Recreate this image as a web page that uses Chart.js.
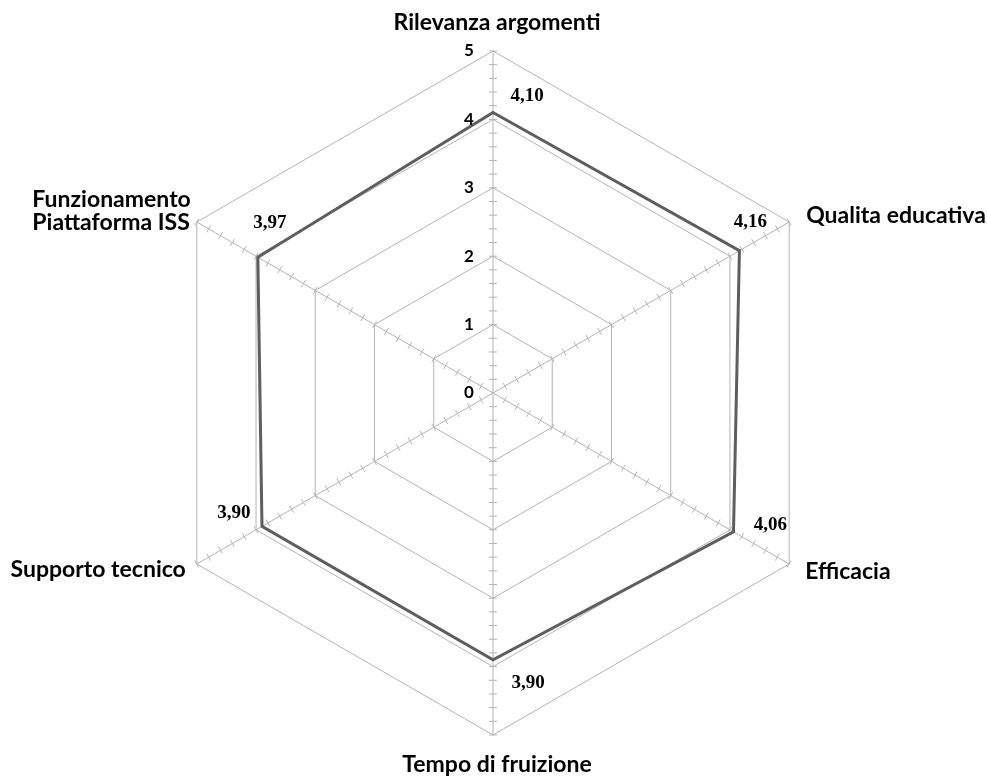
<!DOCTYPE html>
<html>
<head>
<meta charset="utf-8">
<script src="https://cdn.jsdelivr.net/npm/chart.js@4.4.0/dist/chart.umd.min.js"></script>
<style>
  body { margin: 0; background: #fff; }
  #box { width: 987px; height: 776px; }
</style>
</head>
<body>
<div id="box"><canvas id="grafico"></canvas></div>
<script>
const categorie = [
  "Rilevanza argomenti",
  "Qualita educativa",
  "Efficacia",
  "Tempo di fruizione",
  "Supporto tecnico",
  ["Funzionamento", "Piattaforma ISS"]
];
const medie = [4.10, 4.16, 4.06, 3.90, 3.90, 3.97];
const tickLabels = ["0", "1", "2", "3", "4", "5"];

const grigio = "#b4b4b4";

// spostamenti delle etichette (in px) rispetto al vertice esterno / al punto
const offsetCategorie = [
  { dx: 4, dy: -21, align: "center" },
  { dx: 17, dy: 1, align: "left" },
  { dx: 16, dy: 15, align: "left" },
  { dx: 4, dy: 37, align: "center" },
  { dx: -11, dy: 13, align: "right" },
  { dx: -6, dy: -15, align: "right" }
];
const offsetValori = [
  { dx: 34, dy: -16 },
  { dx: 11, dy: -29 },
  { dx: 37, dy: -7 },
  { dx: 35, dy: 23 },
  { dx: -28, dy: -13 },
  { dx: 12, dy: -34 }
];

const decorazioni = {
  id: "decorazioni",
  afterDraw(chart) {
    const ctx = chart.ctx;
    const scale = chart.scales.r;
    ctx.save();

    // tacchette minori sugli assi (ogni 0,2)
    ctx.strokeStyle = grigio;
    ctx.lineWidth = 1;
    for (let i = 0; i < categorie.length; i++) {
      const ang = scale.getIndexAngle(i) - Math.PI / 2;
      const px = -Math.sin(ang), py = Math.cos(ang);
      for (let k = 1; k <= 25; k++) {
        const p = scale.getPointPosition(i, scale.getDistanceFromCenterForValue(k / 5));
        ctx.beginPath();
        ctx.moveTo(p.x - px * 4, p.y - py * 4);
        ctx.lineTo(p.x + px * 4, p.y + py * 4);
        ctx.stroke();
      }
    }

    // etichette della scala
    ctx.fillStyle = "#000";
    ctx.font = "bold 17px Lato";
    ctx.textAlign = "center";
    ctx.textBaseline = "middle";
    tickLabels.forEach(t => {
      const p = scale.getPointPositionForValue(0, Number(t));
      ctx.fillText(t, p.x - 24, p.y);
    });

    // nomi delle categorie
    ctx.font = "bold 23px Lato";
    ctx.textBaseline = "alphabetic";
    categorie.forEach((c, i) => {
      const p = scale.getPointPosition(i, scale.drawingArea);
      const o = offsetCategorie[i];
      const righe = Array.isArray(c) ? c : [c];
      const x = p.x + o.dx;
      const y0 = p.y + o.dy;
      if (righe.length > 1) {
        const w = Math.max(...righe.map(r => ctx.measureText(r).width));
        ctx.textAlign = "left";
        righe.forEach((r, j) => ctx.fillText(r, x - w, y0 + j * 23));
      } else {
        ctx.textAlign = o.align;
        ctx.fillText(righe[0], x, y0);
      }
    });

    // valori
    ctx.font = "bold 19px 'Liberation Serif'";
    ctx.textAlign = "center";
    ctx.textBaseline = "middle";
    const meta = chart.getDatasetMeta(0);
    meta.data.forEach((pt, i) => {
      const o = offsetValori[i];
      ctx.fillText(medie[i].toFixed(2).replace(".", ","), pt.x + o.dx, pt.y + o.dy);
    });

    ctx.restore();
  }
};

new Chart(document.getElementById("grafico"), {
  type: "radar",
  data: {
    labels: categorie,
    datasets: [{
      data: medie,
      borderColor: "#5e5e5e",
      borderWidth: 3,
      fill: false,
      pointRadius: 0,
      tension: 0
    }]
  },
  options: {
    responsive: true,
    maintainAspectRatio: false,
    animation: false,
    layout: { padding: { top: 51, bottom: 41, left: 0, right: 0 } },
    plugins: {
      legend: { display: false },
      tooltip: { enabled: false }
    },
    scales: {
      r: {
        min: 0,
        max: 5,
        ticks: { stepSize: 1, display: false },
        grid: { color: grigio, lineWidth: 1 },
        angleLines: { color: grigio, lineWidth: 1 },
        pointLabels: { display: false }
      }
    }
  },
  plugins: [decorazioni]
});
</script>
</body>
</html>
